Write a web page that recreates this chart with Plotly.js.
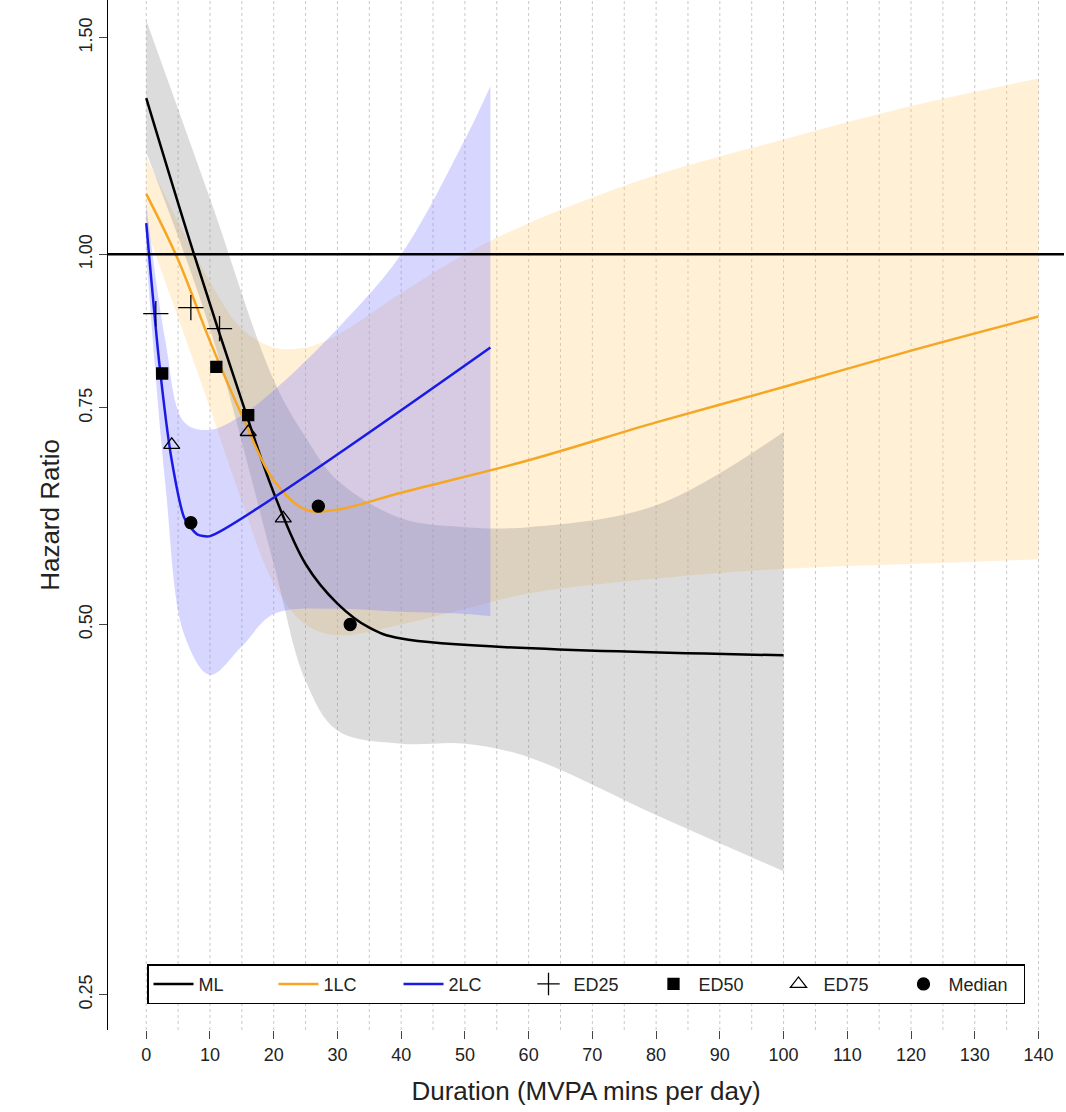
<!DOCTYPE html>
<html>
<head>
<script src="https://cdn.plot.ly/plotly-3.0.1.min.js"></script>
<style>body{margin:0}</style>
</head>
<body>
<div id="chart" style="width:1066px;height:1112px"></div>
<script>
// ML (black)
const mlX = [0, 7.5, 15, 20, 25, 30, 35, 40, 100];
const mlY = [1.34, 1.0, 0.76, 0.64, 0.56, 0.52, 0.497, 0.487, 0.472];
const mlBandX = [0, 10, 20, 25, 30, 40, 50, 60, 80, 100];
const mlUpper = [1.55, 1.11, 0.79, 0.71, 0.655, 0.61, 0.60, 0.60, 0.625, 0.717];
const mlLower = [1.21, 0.87, 0.56, 0.45, 0.41, 0.40, 0.40, 0.39, 0.35, 0.315];
// 1LC (orange)
const lc1X = [0, 5, 10, 15, 20, 25, 30, 40, 60, 80, 100, 120, 140];
const lc1Y = [1.12, 0.99, 0.85, 0.74, 0.655, 0.62, 0.62, 0.64, 0.68, 0.73, 0.78, 0.835, 0.89];
const lc1BandX = [0, 10, 15, 20, 25, 30, 40, 50, 60, 80, 100, 120, 140];
const lc1Upper = [1.2, 0.95, 0.87, 0.84, 0.84, 0.86, 0.93, 1.0, 1.06, 1.16, 1.24, 1.32, 1.39];
const lc1Lower = [1.05, 0.75, 0.63, 0.54, 0.50, 0.49, 0.50, 0.515, 0.53, 0.545, 0.555, 0.56, 0.565];
// 2LC (blue)
const lc2X = [0, 2, 4, 6, 8, 10, 54];
const lc2Y = [1.06, 0.82, 0.68, 0.61, 0.592, 0.59, 0.84];
const lc2BandX = [0, 3, 6, 10, 15, 20, 30, 40, 50, 54];
const lc2Upper = [1.1, 0.85, 0.73, 0.72, 0.74, 0.775, 0.87, 1.0, 1.24, 1.37];
const lc2Lower = [1.0, 0.65, 0.49, 0.455, 0.48, 0.51, 0.515, 0.512, 0.51, 0.508];
// markers
const ed25X = [1.5, 7, 11.5], ed25Y = [0.895, 0.905, 0.87];
const ed50X = [2.5, 11, 16], ed50Y = [0.80, 0.81, 0.74];
const ed75X = [4, 16, 21.5], ed75Y = [0.70, 0.717, 0.61];
const medX = [7, 27, 32], medY = [0.605, 0.624, 0.50];

function band(x, up, lo, color) {
   return [
      { x: x, y: up, mode: 'lines', line: { width: 0, shape: 'spline' }, showlegend: false, hoverinfo: 'skip' },
      { x: x, y: lo, mode: 'lines', line: { width: 0, shape: 'spline' }, fill: 'tonexty', fillcolor: color, showlegend: false, hoverinfo: 'skip' }
   ];
}
function pts(name, x, y, symbol, size) {
   return { name: name, x: x, y: y, mode: 'markers', marker: { symbol: symbol, size: size, color: 'black', line: { color: 'black', width: 1.3 } } };
}

const traces = [
   ...band(lc1BandX, lc1Upper, lc1Lower, 'rgba(255,205,120,0.3)'),
   ...band(mlBandX, mlUpper, mlLower, 'rgba(140,140,140,0.3)'),
   ...band(lc2BandX, lc2Upper, lc2Lower, 'rgba(120,120,255,0.3)'),
   { name: 'ML', x: mlX, y: mlY, mode: 'lines', line: { color: 'black', width: 2.5, shape: 'spline' } },
   { name: '1LC', x: lc1X, y: lc1Y, mode: 'lines', line: { color: '#f5a623', width: 2.5, shape: 'spline' } },
   { name: '2LC', x: lc2X, y: lc2Y, mode: 'lines', line: { color: '#1a1ae6', width: 2.5, shape: 'spline', smoothing: 0.6 } },
   pts('ED25', ed25X, ed25Y, 'cross-thin-open', 18),
   pts('ED50', ed50X, ed50Y, 'square', 11),
   pts('ED75', ed75X, ed75Y, 'triangle-up-open', 14),
   pts('Median', medX, medY, 'circle', 12)
];

// dotted vertical grid every 5 minutes
const shapes = [];
for (let g = 0; g <= 140; g += 5) {
   shapes.push({ type: 'line', layer: 'below', x0: g, x1: g, yref: 'paper', y0: 0, y1: 1, line: { color: '#c8c8c8', width: 1, dash: 'dot' } });
}
shapes.push({ type: 'line', xref: 'paper', x0: 0, x1: 1, y0: 1, y1: 1, line: { color: 'black', width: 2.5 } });

const layout = {
   width: 1066, height: 1112,
   margin: { t: 0, b: 82, l: 108, r: 2 },
   paper_bgcolor: 'white', plot_bgcolor: 'white',
   font: { family: 'Liberation Sans, Arial', size: 18, color: '#222' },
   xaxis: {
      range: [-6, 144], tickmode: 'linear', tick0: 0, dtick: 10,
      showgrid: false, zeroline: false,
      ticks: 'outside', ticklen: 8, showline: false,
      title: { text: 'Duration (MVPA mins per day)', font: { size: 26 }, standoff: 18 }
   },
   yaxis: {
      type: 'log', range: [Math.log10(0.234), Math.log10(1.61)],
      tickvals: [0.25, 0.5, 0.75, 1.0, 1.5], ticktext: ['0.25', '0.50', '0.75', '1.00', '1.50'],
      tickangle: -90, showgrid: false, zeroline: false,
      ticks: 'outside', ticklen: 8, showline: true, linecolor: 'black',
      title: { text: 'Hazard Ratio', font: { size: 26 }, standoff: 8 }
   },
   shapes: shapes,
   legend: {
      orientation: 'h', traceorder: 'normal', x: 0.5, xanchor: 'center', y: 0.025, yanchor: 'bottom',
      bordercolor: 'black', borderwidth: 1.5, bgcolor: 'white', font: { size: 18 }, itemwidth: 40,
      entrywidth: 70
   },
   showlegend: true
};
Plotly.newPlot('chart', traces, layout, { displayModeBar: false });
</script>
</body>
</html>
